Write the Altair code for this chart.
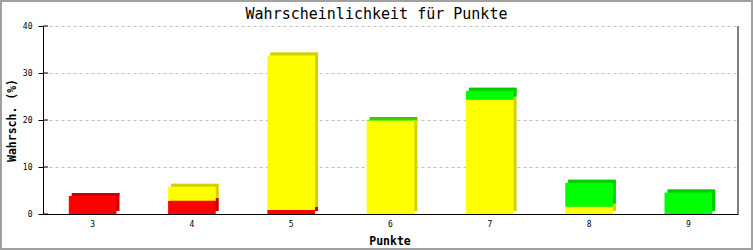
import altair as alt
import pandas as pd

categories = ["3", "4", "5", "6", "7", "8", "9"]
red = [3.85, 2.8, 0.85, 0, 0, 0, 0]
yellow = [0, 3.0, 32.9, 19.9, 24.3, 1.55, 0]
green = [0, 0, 0, 0.1, 1.9, 5.1, 4.55]
y_ticks = [0, 10, 20, 30, 40]
title_text = "Wahrscheinlichkeit für Punkte"

series = ["rot", "gelb", "grün"]
front_colors = ["#FF0000", "#FFFF00", "#00FF00"]
side_colors = ["#CC0000", "#D2D200", "#00CC00"]

rows = []
for i, c in enumerate(categories):
    for k, (s, vals) in enumerate(zip(series, [red, yellow, green])):
        rows.append({"Punkte": c, "Serie": s, "Wert": vals[i], "Ordnung": k})
df = pd.DataFrame(rows)

caps = []
for i, c in enumerate(categories):
    vals = [red[i], yellow[i], green[i]]
    top = max(k for k, v in enumerate(vals) if v > 0)
    caps.append({"Punkte": c, "Summe": sum(vals), "Serie": series[top]})
cap_df = pd.DataFrame(caps)
tick_df = pd.DataFrame({"v": y_ticks})

W, H = 695, 188
BAR_W = W / len(categories) * 0.48
FONT = "DejaVu Sans Mono"

xscale = alt.Scale(domain=categories, paddingInner=0.52, paddingOuter=0.26)
yscale = alt.Scale(domain=[0, 40], nice=False, zero=True)
front_scale = alt.Scale(domain=series, range=front_colors)
side_scale = alt.Scale(domain=series, range=side_colors)

x_axis = alt.Axis(title="Punkte", labelAngle=0, ticks=False, domainColor="black",
                  labelFont=FONT, labelFontSize=8, labelColor="black", labelPadding=6,
                  titleFont=FONT, titleFontSize=11.5, titleFontWeight="bold",
                  titleColor="black", titleX=346.5, titleY=30,
                  titleBaseline="alphabetic", titleAlign="center", grid=False)
y_axis = alt.Axis(title="Wahrsch. (%)", values=y_ticks, tickSize=5, tickColor="black",
                  domainColor="black", labelFont=FONT, labelFontSize=8,
                  labelColor="black", labelPadding=6,
                  grid=True, gridColor="#c0c0c0", gridDash=[3, 3],
                  titleFont=FONT, titleFontSize=11.5, titleFontWeight="bold",
                  titleColor="black", titleX=-31, titleY=94, titleAngle=-90,
                  titleAlign="center", titleBaseline="middle")

X = alt.X("Punkte:N", scale=xscale, axis=x_axis, sort=categories)

back = alt.Chart(df).mark_bar(xOffset=3, yOffset=-3).encode(
    x=X,
    y=alt.Y("Wert:Q", stack="zero", scale=yscale, axis=y_axis),
    color=alt.Color("Serie:N", scale=side_scale, legend=None),
    order=alt.Order("Ordnung:Q"),
)

cap = alt.Chart(cap_df).mark_tick(thickness=3, size=BAR_W, xOffset=3, yOffset=-1.5).encode(
    x=X,
    y=alt.Y("Summe:Q", scale=yscale, axis=y_axis),
    color=alt.Color("Serie:N", scale=side_scale, legend=None),
)

front = alt.Chart(df).mark_bar().encode(
    x=X,
    y=alt.Y("Wert:Q", stack="zero", scale=yscale, axis=y_axis),
    color=alt.Color("Serie:N", scale=front_scale, legend=None),
    order=alt.Order("Ordnung:Q"),
)

inner_ticks = alt.Chart(tick_df).mark_rule(color="black").encode(
    y=alt.Y("v:Q", scale=yscale, axis=y_axis),
    x=alt.value(0), x2=alt.value(5),
)

right_line = alt.Chart(alt.Data(values=[{}])).mark_rule(color="black").encode(
    x=alt.value(W), y=alt.value(0), y2=alt.value(H),
)

title = alt.Chart(alt.Data(values=[{"t": title_text}])).mark_text(
    font=FONT, fontSize=15, color="black", align="center", baseline="alphabetic"
).encode(
    text="t:N", x=alt.value(333.5), y=alt.value(-7),
)

border = alt.Chart(alt.Data(values=[{}])).mark_rect(
    fillOpacity=0, stroke="#a0a0a0", strokeWidth=2
).encode(
    x=alt.value(-42), x2=alt.value(W + 14), y=alt.value(-25), y2=alt.value(H + 35),
)

chart = alt.layer(back, cap, front, inner_ticks, right_line, title, border).resolve_scale(
    color="independent"
).properties(
    width=W, height=H,
    autosize=alt.AutoSizeParams(type="none"),
    padding={"left": 43, "top": 26, "right": 15, "bottom": 36},
    background="white",
).configure_view(stroke=None)

chart.save("out.html", embed_options={"renderer": "svg", "actions": False})
